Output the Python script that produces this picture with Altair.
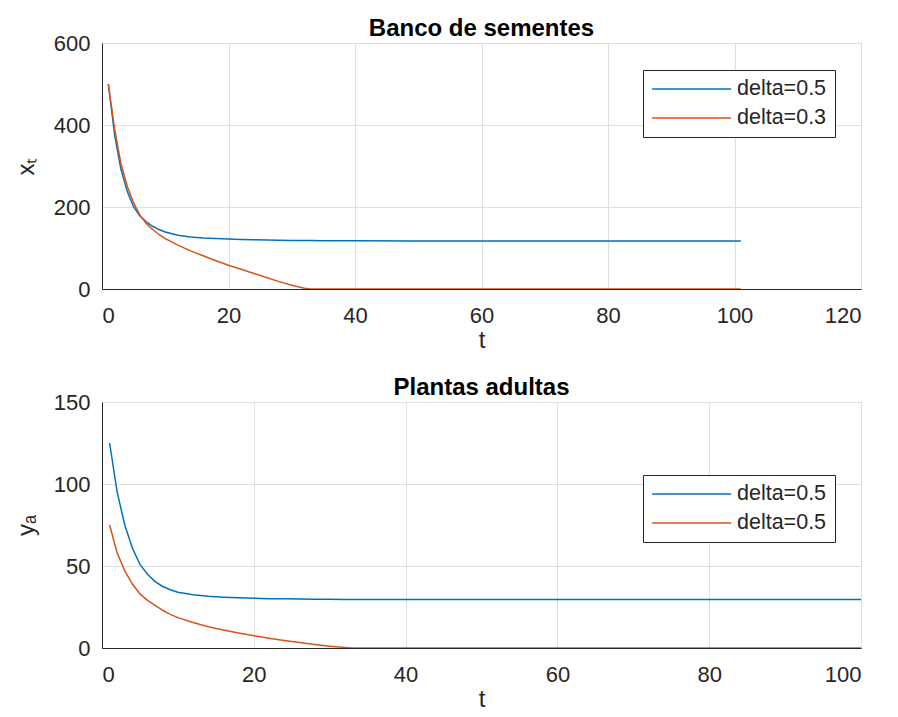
import altair as alt
import pandas as pd

# ---- data ----
t_vals = [1, 2, 3, 4, 5, 6, 7, 8, 9, 10, 12, 14, 16, 18, 20, 22, 24, 26, 28, 30,
          32, 33, 35, 40, 50, 60, 70, 80, 90, 101]

seeds_d05 = [500, 375, 292, 238, 200, 178, 164, 153, 145, 139, 131, 127, 124.5, 123,
             122, 121, 120, 119.5, 119, 118.5, 118, 118, 117.8, 117.5, 117, 117, 117,
             117, 117, 117]
seeds_d03 = [500, 390, 305, 250, 210, 180, 160, 145, 133, 123, 107, 93, 81, 69, 58,
             48, 38, 28, 18, 9, 2, 0, 0, 0, 0, 0, 0, 0, 0, 0]

adults_a = [125, 95, 75, 61, 51, 45, 40.5, 37.5, 35.5, 34, 32.5, 31.5, 31, 30.6, 30.3,
            30.1, 30, 29.9, 29.8, 29.7, 29.6, 29.6, 29.6, 29.5, 29.5, 29.5, 29.5, 29.5,
            29.5, 29.5]
adults_b = [75, 58, 47, 39, 33, 29, 26, 23, 20.5, 18.5, 15.5, 13, 11, 9.2, 7.5, 6,
            4.6, 3.3, 2.1, 1.1, 0.3, 0, 0, 0, 0, 0, 0, 0, 0, 0]

top_series = ["delta=0.5", "delta=0.3"]
bottom_series = ["s1", "s2"]          # both shown as "delta=0.5" in the legend
bottom_label = "delta=0.5"

top_xticks = [0, 20, 40, 60, 80, 100, 120]
top_yticks = [0, 200, 400, 600]
bot_xticks = [0, 20, 40, 60, 80, 100]
bot_yticks = [0, 50, 100, 150]

BLUE = "#0072BD"
ORANGE = "#D95319"
FONT = "Liberation Sans"
INK = "#262626"


def make_df(names, s1, s2):
    rows = []
    for name, vals in zip(names, (s1, s2)):
        for t, v in zip(t_vals, vals):
            rows.append({"t": t, "v": v, "series": name})
    return pd.DataFrame(rows)


def panel(df, names, label_expr, xticks, yticks, title, ytitle, lx, ly):
    legend_kw = dict(
        title=None, orient="none", legendX=lx, legendY=ly, direction="vertical",
        padding=8, strokeColor=INK, fillColor="white", cornerRadius=0,
        symbolType="M-1,0L7,0", symbolSize=390, symbolStrokeWidth=1.5,
        labelOffset=64, labelFont=FONT, labelFontSize=21.5, labelColor=INK,
        rowPadding=7,
    )
    if label_expr:
        legend_kw["labelExpr"] = label_expr
    return alt.Chart(df).mark_line(strokeWidth=1.5, clip=True).encode(
        x=alt.X("t:Q",
                scale=alt.Scale(domain=[xticks[0], xticks[-1]], nice=False, zero=False),
                axis=alt.Axis(values=xticks, title="t", format="d")),
        y=alt.Y("v:Q",
                scale=alt.Scale(domain=[yticks[0], yticks[-1]], nice=False),
                axis=alt.Axis(values=yticks, title=ytitle, format="d")),
        color=alt.Color("series:N",
                        scale=alt.Scale(domain=names, range=[BLUE, ORANGE]),
                        sort=names,
                        legend=alt.Legend(**legend_kw)),
        order=alt.Order("t:Q"),
    ).properties(width=759, height=246, title=title)


top = panel(make_df(top_series, seeds_d05, seeds_d03), top_series, None,
            top_xticks, top_yticks, "Banco de sementes", "x\u209c", 541, 27)
bottom = panel(make_df(bottom_series, adults_a, adults_b), bottom_series,
               "'" + bottom_label + "'",
               bot_xticks, bot_yticks, "Plantas adultas", "y\u2090", 541, 73)

chart = alt.vconcat(top, bottom, spacing=113, bounds="flush").resolve_scale(
    color="independent"
).resolve_legend(
    color="independent"
).properties(
    padding={"left": 5, "top": 8, "right": 5, "bottom": 2}
).configure_view(
    stroke=INK, strokeWidth=1
).configure_axis(
    labelFont=FONT, labelFontSize=22, labelColor=INK,
    titleFont=FONT, titleFontSize=24, titleFontWeight="normal", titleColor=INK,
    gridColor="#dfdfdf", gridWidth=1, domainColor=INK, domainWidth=1,
    ticks=False, tickSize=0,
).configure_axisX(
    labelPadding=16, titlePadding=2
).configure_axisY(
    labelPadding=12, titlePadding=15
).configure_title(
    font=FONT, fontSize=24, fontWeight="bold", color="#000000", offset=-9
)

chart.save("out.html", embed_options={"renderer": "svg", "actions": False})
